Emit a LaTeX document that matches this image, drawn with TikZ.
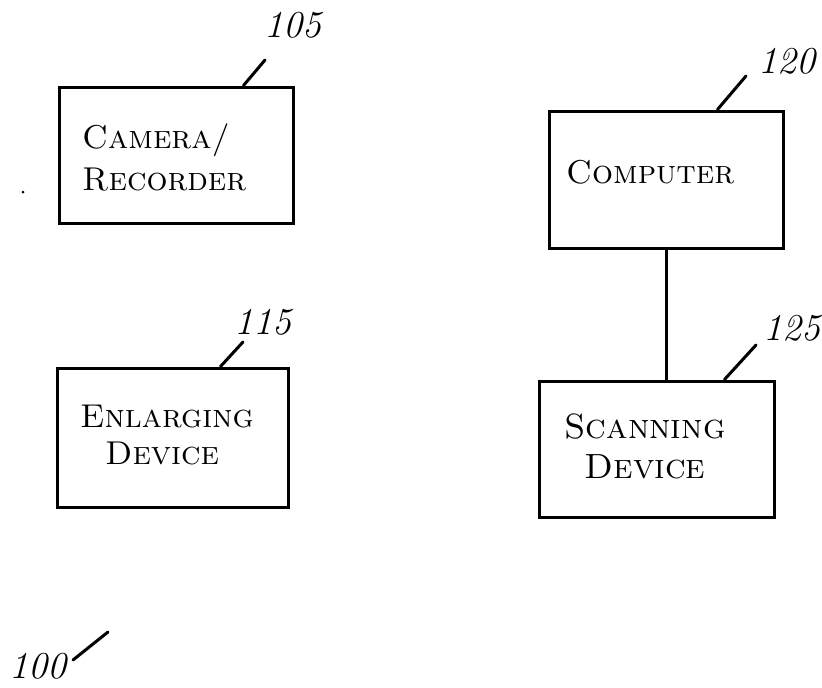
\documentclass[tikz,border=0pt]{standalone}
\usetikzlibrary{calc}
\begin{document}
\begin{tikzpicture}[x=1pt,y=-1pt,
  blockbox/.style={draw,line width=3pt,rectangle,inner sep=0pt},
  boxtext/.style={font=\fontsize{33}{40}\selectfont\scshape,inner sep=0pt},
  refnum/.style={font=\fontsize{38}{40}\selectfont\itshape,inner sep=0pt},
  leader/.style={line width=3pt,line cap=round}]
\useasboundingbox (0,0) rectangle (822,688);
% boxes
\node[blockbox,minimum width=234pt,minimum height=136pt] (cam) at (176,155) {};
\node[blockbox,minimum width=234pt,minimum height=137pt] (comp) at (666,179.5) {};
\node[blockbox,minimum width=231pt,minimum height=139pt] (enl) at (172.5,437.5) {};
\node[blockbox,minimum width=235pt,minimum height=136pt] (scan) at (656.5,449) {};
% box texts
\node[boxtext,anchor=west,align=left,font=\fontsize{33}{42}\selectfont\scshape] (camt) at (82,157) {Camera/\\Recorder};
\node[boxtext,anchor=west] (compt) at (566,172) {Computer};
\node[boxtext,anchor=west,align=left,font=\fontsize{33}{37}\selectfont\scshape] (enlt) at (80,435) {Enlarging\\\ \ Device};
\node[boxtext,align=center,font=\fontsize{35}{40}\selectfont\scshape] (scant) at (645,446) {Scanning\\Device};
% connector
\draw[line width=3pt] (comp.south) -- (comp.south |- scan.north);
% reference numerals
\node[refnum] (n105) at (293,25) {105};
\node[refnum] (n120) at (787,61) {120};
\node[refnum] (n115) at (263,322) {115};
\node[refnum] (n125) at (792,328) {125};
\node[refnum] (n100) at (38,666) {100};
\coordinate (e105) at (265,60);
\coordinate (e120) at (746,76);
\coordinate (e115) at (243,342);
\coordinate (e125) at (756,345);
\coordinate (e100a) at (73,660);
\coordinate (e100b) at (108,632);
\draw[leader] ($(cam.north west)+(186,0)$) -- (e105);
\draw[leader] ($(comp.north west)+(170,0)$) -- (e120);
\draw[leader] ($(enl.north west)+(165,0)$) -- (e115);
\draw[leader] ($(scan.north west)+(187,0)$) -- (e125);
\draw[leader] (e100a) -- (e100b);
% stray dot
\fill (23,192) circle (1.5pt);
\end{tikzpicture}
\end{document}
